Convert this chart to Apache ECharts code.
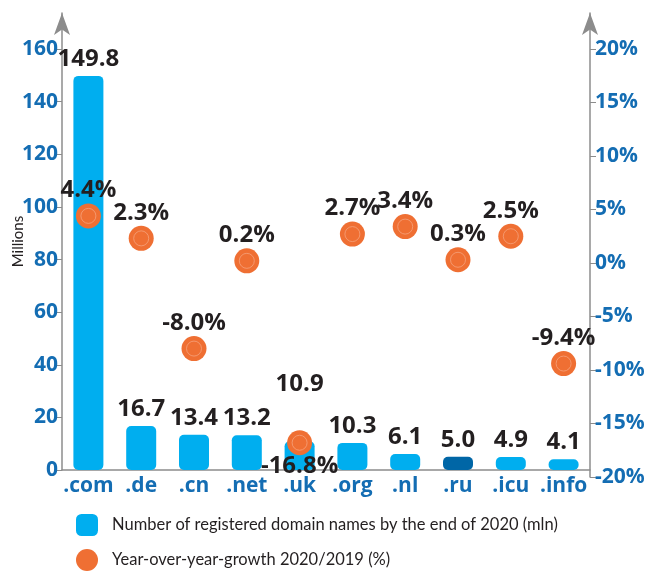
<!DOCTYPE html>
<html>
<head>
<meta charset="utf-8">
<script src="https://cdn.jsdelivr.net/npm/echarts@6/dist/echarts.min.js"></script>
<style>
  html, body { margin: 0; padding: 0; background: #fff; }
  #main { width: 651px; height: 579px; }
</style>
</head>
<body>
<div id="main"></div>
<script>
// domain zones and their values
const domains = ['.com', '.de', '.cn', '.net', '.uk', '.org', '.nl', '.ru', '.icu', '.info'];
const registered = [149.8, 16.7, 13.4, 13.2, 10.9, 10.3, 6.1, 5.0, 4.9, 4.1];
const growth = [4.4, 2.3, -8.0, 0.2, -16.8, 2.7, 3.4, 0.3, 2.5, -9.4];
const leftTicks = [0, 20, 40, 60, 80, 100, 120, 140, 160];
const rightTicks = [-20, -15, -10, -5, 0, 5, 10, 15, 20];

const barName = 'Number of registered domain names by the end of 2020 (mln)';
const dotName = 'Year-over-year-growth 2020/2019 (%)';

const blue = '#00aeef';
const darkBlue = '#0066a6';
const orange = '#ef6f33';
const axisGray = '#8c8c8c';
const labelBlue = '#146db3';
const textDark = '#231f20';
const font = 'Lato';
const boldFont = 'Open Sans';

let chart = echarts.init(document.getElementById('main'));

// .ru gets the darker bar, .uk label is pushed up above the dot
const barData = registered.map((v, i) => {
    let item = { value: v };
    if (domains[i] === '.ru') item.itemStyle = { color: darkBlue };
    if (domains[i] === '.uk') item.label = { offset: [0, -40] };
    return item;
});

// the lowest dot gets its label underneath
const dotData = growth.map((v, i) => {
    let item = { value: v };
    if (v < -15) item.label = { position: 'bottom', distance: -1 };
    return item;
});

const catAxis = (gridIndex, show) => ({
    type: 'category',
    gridIndex: gridIndex,
    data: domains,
    show: show,
    boundaryGap: true,
    axisLine: { lineStyle: { color: axisGray, width: 1.5 } },
    axisTick: { length: 8, interval: 0, lineStyle: { color: axisGray, width: 1.2 } },
    axisLabel: { interval: 0, color: labelBlue, fontFamily: boldFont, fontWeight: 'bold', fontSize: 21, margin: 6 }
});

chart.setOption({
    animation: false,
    textStyle: { fontFamily: font },
    grid: [
        { left: 62, right: 61, top: 13, bottom: 109, outerBoundsMode: 'none', containLabel: false },
        { left: 62, right: 61, top: 13, bottom: 102, outerBoundsMode: 'none', containLabel: false }
    ],
    legend: {
        orient: 'vertical',
        left: 76,
        top: 514,
        padding: 0,
        itemGap: 13,
        itemWidth: 22,
        itemHeight: 22,
        textStyle: { fontFamily: font, fontSize: 16.5, color: textDark, padding: [0, 0, 0, 9] },
        data: [
            { name: barName, icon: 'roundRect' },
            { name: dotName, icon: 'circle' }
        ]
    },
    xAxis: [catAxis(0, true), catAxis(1, false)],
    yAxis: [
        {
            type: 'value',
            gridIndex: 0,
            position: 'left',
            min: 0,
            max: 173.7,
            name: 'Millions',
            nameLocation: 'middle',
            nameRotate: 90,
            nameGap: 36,
            nameMoveOverlap: false,
            nameTextStyle: { fontFamily: font, fontSize: 15, color: textDark },
            splitLine: { show: false },
            axisLine: { show: true, symbol: ['none', 'arrow'], symbolSize: [12, 22], lineStyle: { color: axisGray, width: 1.5 } },
            axisTick: { show: true, length: 5, customValues: leftTicks, lineStyle: { color: axisGray } },
            axisLabel: { customValues: leftTicks, color: labelBlue, fontFamily: boldFont, fontWeight: 'bold', fontSize: 21, margin: 4 }
        },
        {
            type: 'value',
            gridIndex: 1,
            position: 'right',
            min: -20,
            max: 23.36,
            splitLine: { show: false },
            axisLine: { show: true, symbol: ['none', 'arrow'], symbolSize: [12, 22], lineStyle: { color: axisGray, width: 1.5 } },
            axisTick: { show: true, length: 6, customValues: rightTicks, lineStyle: { color: axisGray } },
            axisLabel: {
                customValues: rightTicks,
                color: labelBlue, fontFamily: boldFont, fontWeight: 'bold', fontSize: 21, margin: 5,
                formatter: v => v + '%'
            }
        }
    ],
    series: [
        {
            name: barName,
            type: 'bar',
            xAxisIndex: 0,
            yAxisIndex: 0,
            barWidth: 30,
            itemStyle: { color: blue, borderRadius: 5 },
            label: {
                show: true,
                position: 'top',
                distance: 5,
                color: textDark,
                fontFamily: boldFont,
                fontWeight: 'bold',
                fontSize: 24,
                formatter: p => p.value.toFixed(1)
            },
            data: barData
        },
        {
            name: dotName,
            type: 'scatter',
            xAxisIndex: 1,
            yAxisIndex: 1,
            symbol: 'circle',
            symbolSize: 25,
            z: 5,
            itemStyle: { color: orange, opacity: 1 },
            label: {
                show: true,
                position: 'top',
                distance: 1,
                color: textDark,
                fontFamily: boldFont,
                fontWeight: 'bold',
                fontSize: 24,
                formatter: p => p.value.toFixed(1) + '%'
            },
            data: dotData
        },
        {
            // thin lighter ring inside each dot
            type: 'scatter',
            xAxisIndex: 1,
            yAxisIndex: 1,
            symbol: 'circle',
            symbolSize: 15,
            silent: true,
            z: 6,
            itemStyle: { color: 'transparent', borderColor: '#f5a27c', borderWidth: 0.8, opacity: 1 },
            data: growth
        }
    ]
});
</script>
</body>
</html>
